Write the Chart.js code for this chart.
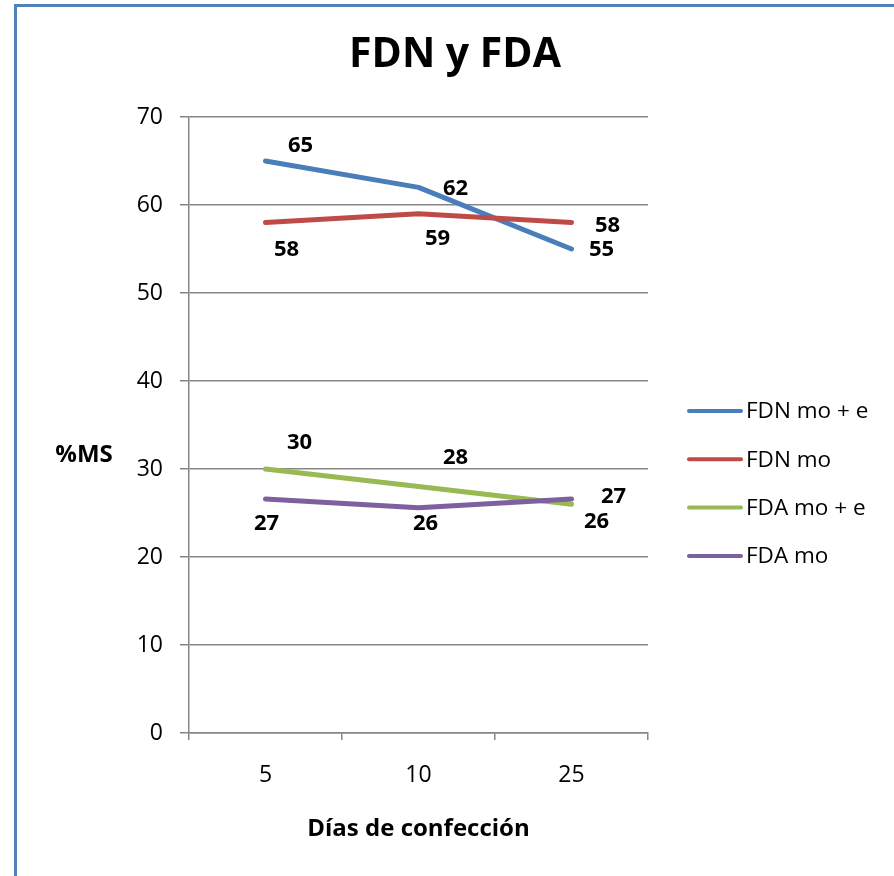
<!DOCTYPE html>
<html>
<head>
<meta charset="utf-8">
<script src="https://cdn.jsdelivr.net/npm/chart.js@4"></script>
<style>
  html, body { margin: 0; padding: 0; background: #ffffff; }
  #wrap { position: relative; width: 894px; height: 876px; overflow: hidden; }
  #frame { position: absolute; left: 14px; top: 4px; width: 1000px; height: 1000px;
           border-left: 3px solid #4f81bd; border-top: 3px solid #4f81bd; }
  #chart { position: absolute; left: 0; top: 0; }
</style>
</head>
<body>
<div id="wrap">
  <div id="frame"></div>
  <canvas id="chart" width="894" height="876"></canvas>
</div>
<script>
// Days of preparation (x categories)
const categories = ['5', '10', '25'];

// Fibre contents, % of dry matter
const fdnMoE = [65, 62, 55];
const fdnMo  = [58, 59, 58];
const fdaMoE = [30, 28, 26];
const fdaMo  = [26.6, 25.6, 26.6];

const seriesNames = ['FDN mo + e', 'FDN mo', 'FDA mo + e', 'FDA mo'];
const seriesColors = ['#4a7ebb', '#be4b48', '#98b954', '#7d60a0'];

// Y axis range
const yMin = 0, yMax = 70, yStep = 10;

// Where each value label sits relative to its point (dx, dy in px)
const labelOffsets = [
  [[35, -15], [37, 1], [30, 1]],
  [[21, 27], [19, 25], [36, 3]],
  [[34, -26], [37, -29], [25, 18]],
  [[1, 25], [7, 16], [42, -2]]
];

const FONT = "'Open Sans', 'Liberation Sans', sans-serif";
const GRID = '#868686';

const seriesData = [fdnMoE, fdnMo, fdaMoE, fdaMo];

const datasets = seriesData.map((d, i) => ({
  label: seriesNames[i],
  data: d,
  borderColor: seriesColors[i],
  backgroundColor: seriesColors[i],
  borderWidth: 5,
  borderCapStyle: 'round',
  borderJoinStyle: 'round',
  pointRadius: 0,
  pointHoverRadius: 0,
  tension: 0,
  fill: false,
  order: seriesData.length - i
}));

// Value labels next to each point
const valueLabels = {
  id: 'valueLabels',
  afterDatasetsDraw(chart) {
    const ctx = chart.ctx;
    ctx.save();
    ctx.font = 'bold 22px ' + FONT;
    ctx.fillStyle = '#000000';
    ctx.textAlign = 'center';
    ctx.textBaseline = 'middle';
    chart.data.datasets.forEach((ds, i) => {
      const meta = chart.getDatasetMeta(i);
      meta.data.forEach((pt, j) => {
        const off = labelOffsets[i][j];
        ctx.fillText(String(Math.round(ds.data[j])), pt.x + off[0], pt.y + off[1]);
      });
    });
    ctx.restore();
  }
};

// Chart title, axis titles and the legend on the right
const extras = {
  id: 'extras',
  afterDraw(chart) {
    const ctx = chart.ctx;
    const area = chart.chartArea;
    ctx.save();
    ctx.fillStyle = '#000000';
    ctx.textBaseline = 'middle';
    ctx.textAlign = 'center';

    ctx.font = 'bold 41px ' + FONT;
    ctx.fillText('FDN y FDA', 455, 55);

    ctx.font = 'bold 24px ' + FONT;
    ctx.fillText('%MS', 84, 455);
    ctx.fillText('Días de confección', (area.left + area.right) / 2, 829);

    ctx.font = '22.5px ' + FONT;
    ctx.textAlign = 'left';
    chart.data.datasets.forEach((ds, i) => {
      const y = 411 + i * 48.3;
      ctx.strokeStyle = ds.borderColor;
      ctx.lineWidth = 4;
      ctx.lineCap = 'round';
      ctx.beginPath();
      ctx.moveTo(689, y);
      ctx.lineTo(741, y);
      ctx.stroke();
      ctx.fillText(ds.label, 746, y + 1);
    });
    ctx.restore();
  }
};

new Chart(document.getElementById('chart'), {
  type: 'line',
  data: { labels: categories, datasets },
  options: {
    responsive: false,
    animation: false,
    devicePixelRatio: 1,
    layout: { padding: { left: 0, right: 246, top: 117, bottom: 0 } },
    plugins: {
      legend: { display: false },
      tooltip: { enabled: false },
      title: { display: false }
    },
    scales: {
      x: {
        offset: true,
        grid: {
          offset: true,
          drawOnChartArea: false,
          drawTicks: true,
          tickLength: 7,
          color: GRID,
          lineWidth: 1.5
        },
        border: { display: true, color: GRID, width: 1.5 },
        ticks: {
          color: '#000000',
          font: { family: FONT, size: 23 },
          padding: 22,
          maxRotation: 0
        },
        afterFit(scale) { scale.height = 143; }
      },
      y: {
        min: yMin,
        max: yMax,
        ticks: {
          stepSize: yStep,
          color: '#000000',
          font: { family: FONT, size: 23 },
          padding: 17
        },
        grid: {
          color: GRID,
          lineWidth: 1.5,
          tickLength: 9
        },
        border: { display: true, color: GRID, width: 1.5 },
        afterFit(scale) { scale.width = 189; }
      }
    }
  },
  plugins: [valueLabels, extras]
});
</script>
</body>
</html>
